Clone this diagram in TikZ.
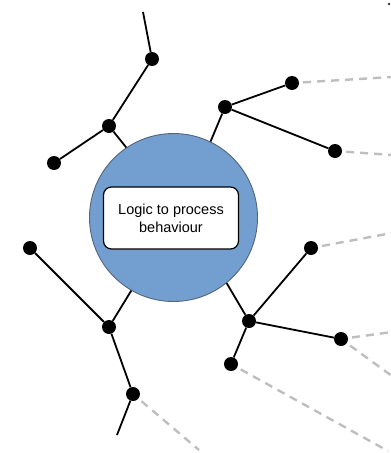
\documentclass[tikz,border=0pt]{standalone}
\usepackage{fontspec}
\setmainfont{Liberation Sans}
\definecolor{circfill}{RGB}{114,159,207}
\definecolor{circline}{RGB}{85,100,125}
\definecolor{dashgray}{RGB}{190,190,190}
\begin{document}
\begin{tikzpicture}[x=1pt,y=-1pt,
  dot/.style={circle,fill=black,inner sep=0pt,minimum size=14pt},
  link/.style={line width=1.8pt,black},
  dlink/.style={line width=2.4pt,dashgray,dash pattern=on 8pt off 6pt,dash phase=-4pt},
  hub/.style={circle,fill=circfill,draw=circline,line width=0.9pt,minimum size=168pt,inner sep=0pt},
  box/.style={rectangle,rounded corners=8pt,fill=white,draw=black,line width=1.2pt,minimum width=135pt,minimum height=62pt,align=center,font=\fontsize{14.5}{18}\selectfont}]
\useasboundingbox (0,0) rectangle (391,453);
\node[hub] (hub) at (173.5,217.5) {};
\node[box] (logic) at (171,218) {Logic to process\\behaviour};
% dots
\node[dot] (A1) at (152,59) {};
\node[dot] (A2) at (109,126) {};
\node[dot] (A3) at (54,163) {};
\node[dot] (B1) at (225,107) {};
\node[dot] (B2) at (292,83) {};
\node[dot] (B3) at (335,151) {};
\node[dot] (C1) at (30,248) {};
\node[dot] (C2) at (109,327) {};
\node[dot] (C3) at (133,394) {};
\node[dot] (D1) at (249,321) {};
\node[dot] (D2) at (311,248) {};
\node[dot] (D3) at (341,339) {};
\node[dot] (D4) at (231,364) {};
% free ends
\coordinate (A0) at (143,12);
\coordinate (C4) at (117,435);
\coordinate (eB2) at (392,77);
\coordinate (eB3) at (392,155);
\coordinate (eD2) at (392,233);
\coordinate (eD3a) at (392,332);
\coordinate (eD3b) at (392,376);
\coordinate (eD4) at (388,451);
\coordinate (eC3) at (199,450);
% solid links
\draw[link] (A0) -- (A1);
\draw[link] (A1) -- (A2);
\draw[link] (A2) -- (A3);
\draw[link] (A2) -- (hub.124);
\draw[link] (B1) -- (hub.64);
\draw[link] (B1) -- (B2);
\draw[link] (B1) -- (B3);
\draw[link] (C1) -- (C2);
\draw[link] (C2) -- (hub.240);
\draw[link] (C2) -- (C3);
\draw[link] (C3) -- (C4);
\draw[link] (D1) -- (hub.-51);
\draw[link] (D1) -- (D2);
\draw[link] (D1) -- (D3);
\draw[link] (D1) -- (D4);
% dashed links
\draw[dlink] (B2) -- (eB2);
\draw[dlink] (B3) -- (eB3);
\draw[dlink] (D2) -- (eD2);
\draw[dlink] (D3) -- (eD3a);
\draw[dlink] (D3) -- (eD3b);
\draw[dlink] (D4) -- (eD4);
\draw[dlink] (C3) -- (eC3);
% small fragment top right
\fill[black!80] (389,4) circle (1.3pt);
\end{tikzpicture}
\end{document}
